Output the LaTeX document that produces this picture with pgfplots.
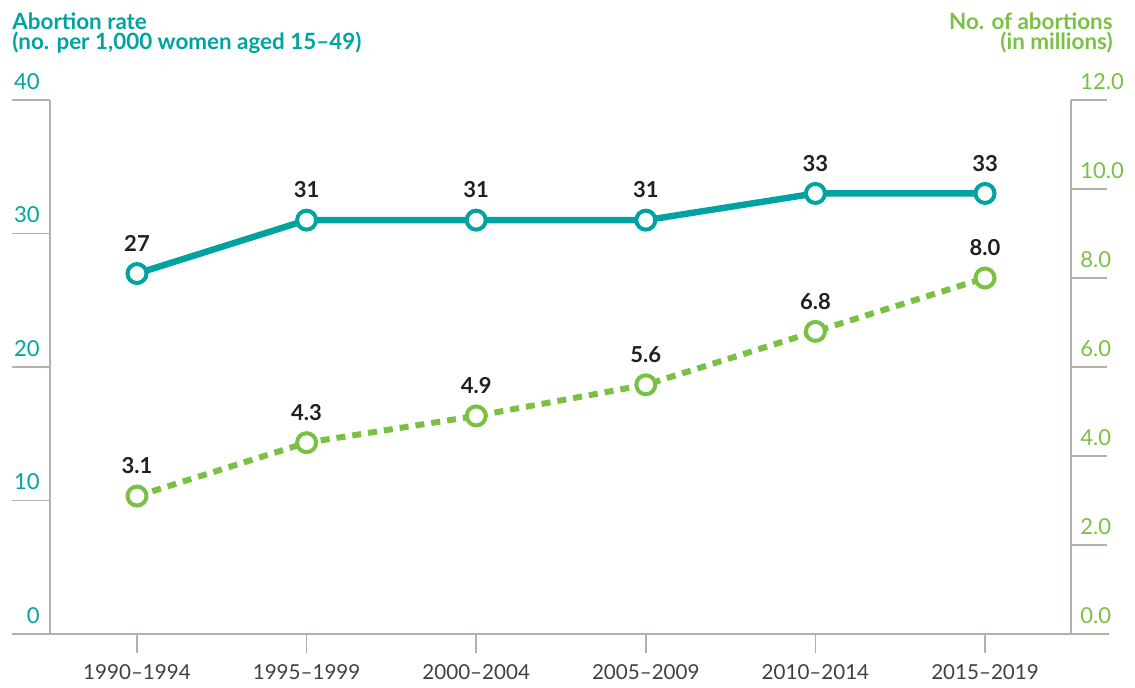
\documentclass[border=0pt]{standalone}
\usepackage{pgfplots}
\pgfplotsset{compat=1.18}
\usepackage{fontspec}
\setmainfont{Lato}
\definecolor{rateteal}{HTML}{00A3A1}
\definecolor{numgreen}{HTML}{7AC143}
\definecolor{axisgray}{HTML}{B5AFAA}
\definecolor{labelgray}{HTML}{404040}
\definecolor{valdark}{HTML}{231F20}
\begin{document}
\begin{tikzpicture}
\useasboundingbox (-25pt,-27pt) rectangle (542.5pt,317pt);
% x axis (extends beyond both y axes)
\begin{axis}[
  at={(-19pt,0pt)}, anchor=south west,
  scale only axis, width=548.5pt, height=267pt,
  xmin=-0.737, xmax=5.731, ymin=0, ymax=40,
  axis x line=bottom, axis y line=none,
  axis line style={-},
  x axis line style={draw=axisgray, line width=0.8pt},
  xtick={0,1,2,3,4,5},
  xticklabels={1990–1994,1995–1999,2000–2004,2005–2009,2010–2014,2015–2019},
  tick align=outside, major tick length=9.5pt,
  xtick style={draw=axisgray, line width=0.8pt},
  xticklabel style={font=\fontsize{10.3}{12}\selectfont, text=labelgray, yshift=-2.5pt},
]
\addplot[draw=none] coordinates {(0,0)};
\end{axis}
% left axis: abortion rate
\begin{axis}[
  at={(0pt,0pt)}, anchor=south west,
  scale only axis, width=510.5pt, height=267pt,
  xmin=-0.513, xmax=5.507, ymin=0, ymax=40,
  axis y line=left, axis x line=none,
  axis line style={-},
  y axis line style={draw=axisgray, line width=0.8pt},
  ytick={0,10,20,30,40},
  tick align=outside, major tick length=19pt,
  ytick style={draw=axisgray, line width=0.8pt},
  yticklabel style={text=rateteal, font=\fontsize{11}{12}\selectfont, anchor=south east, inner sep=0pt, xshift=14pt, yshift=5pt},
  /pgf/number format/assume math mode=true,
  clip=false,
]
\addplot[rateteal, line width=3.2pt,
  mark=*, mark size=4.75pt,
  mark options={fill=white, draw=rateteal, line width=2pt, solid},
  nodes near coords, point meta=explicit symbolic,
  nodes near coords style={font=\fontsize{11}{12}\bfseries\selectfont, text=valdark, anchor=south, inner sep=0pt, yshift=10pt},
] coordinates {
  (0,27) [27]
  (1,31) [31]
  (2,31) [31]
  (3,31) [31]
  (4,33) [33]
  (5,33) [33]
};
\end{axis}
% right axis: number of abortions
\begin{axis}[
  at={(0pt,0pt)}, anchor=south west,
  scale only axis, width=510.5pt, height=267pt,
  xmin=-0.513, xmax=5.507, ymin=0, ymax=12,
  axis y line=right, axis x line=none,
  axis line style={-},
  y axis line style={draw=axisgray, line width=0.8pt},
  ytick={0,2,4,6,8,10,12},
  tick align=outside, major tick length=18pt,
  ytick style={draw=axisgray, line width=0.8pt},
  yticklabel style={text=numgreen, font=\fontsize{11}{12}\selectfont, anchor=south west, inner sep=0pt, xshift=-13.5pt, yshift=5pt,
    /pgf/number format/.cd, fixed, fixed zerofill, precision=1, assume math mode=true},
  clip=false,
]
\addplot[numgreen, line width=3pt, dash pattern=on 4.5pt off 3.5pt,
  mark=*, mark size=4.75pt,
  mark options={fill=white, draw=numgreen, line width=2pt, solid},
  nodes near coords, point meta=explicit symbolic,
  nodes near coords style={font=\fontsize{11}{12}\bfseries\selectfont, text=valdark, anchor=south, inner sep=0pt, yshift=10pt},
] coordinates {
  (0,3.1) [3.1]
  (1,4.3) [4.3]
  (2,4.9) [4.9]
  (3,5.6) [5.6]
  (4,6.8) [6.8]
  (5,8.0) [8.0]
};
\end{axis}
\node[anchor=north west, align=left, inner sep=0pt, text=rateteal, font=\fontsize{11.2}{10}\bfseries\selectfont] at (-19pt,311pt) {Abortion rate\\(no. per 1,000 women aged 15–49)};
\node[anchor=north east, align=right, inner sep=0pt, text=numgreen, font=\fontsize{11.2}{10}\bfseries\selectfont] at (531.5pt,311pt) {No. of abortions\\(in millions)};
\end{tikzpicture}
\end{document}
